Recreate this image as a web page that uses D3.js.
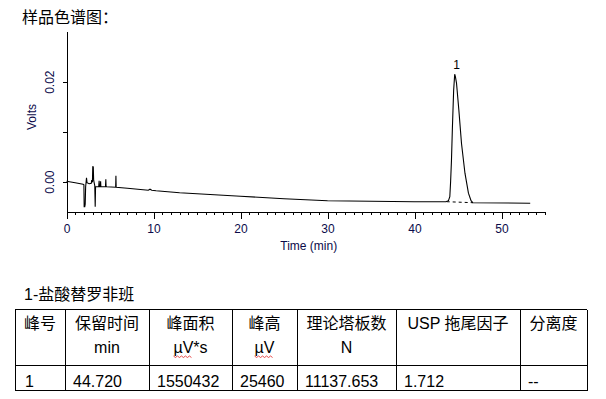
<!DOCTYPE html>
<html>
<head>
<meta charset="utf-8">
<script src="https://cdn.jsdelivr.net/npm/d3@7"></script>
<style>
  body { margin: 0; background: #fff; }
  svg text { font-family: "Liberation Sans", Arial, "Noto Sans CJK SC", sans-serif; fill: #000; }
</style>
</head>
<body>
<div id="chart"></div>
<script>
// chromatogram trace (time in min, signal in volts)
var traceTime = [0, 1.0, 1.9, 2.0, 2.03, 2.1, 2.15, 2.2, 2.3, 2.36, 2.6, 2.85, 2.9, 2.98, 3.02, 3.08, 3.12,
  3.25, 3.3, 3.34, 3.7, 3.75, 3.78, 3.88, 3.92, 3.95, 4.48, 4.52, 4.55, 4.6, 5.65, 5.68, 5.71,
  7, 9.4, 9.6, 9.8, 10.3, 13, 15, 20, 25, 30, 35, 40, 43.6,
  43.9, 44.06, 44.15, 44.25, 44.36, 44.5, 44.62, 44.7, 44.83, 45.1, 45.4, 45.8, 46.2, 46.5, 46.7, 53.3];
var traceVolts = [0.0001, -0.0002, -0.0005, -0.0006, -0.005, -0.005, -0.0045, -0.001, 0.0008, -0.0002, -0.0004, -0.0003, 0.0003, -0.0001, 0.0031, 0.0029, 0.0003,
  -0.0008, -0.005, -0.001, -0.001, 0.0002, -0.001, -0.001, 0.0001, -0.001, -0.001, 0.0005, -0.0009, -0.001, -0.0011, 0.0012, -0.0011,
  -0.0013, -0.0017, -0.0015, -0.0017, -0.0018, -0.0022, -0.0024, -0.0029, -0.0034, -0.0038, -0.0039, -0.004, -0.004,
  -0.0038, -0.003, 0.0, 0.0043, 0.011, 0.0183, 0.0215, 0.021, 0.0197, 0.0143, 0.0077, 0.0017, -0.0023, -0.0038, -0.0042, -0.0043];

// integration baseline under the peak
var baseTime = [43.7, 46.7];
var baseVolts = [-0.004, -0.0042];

var peakTime = [44.72];
var peakVolts = [0.0215];
var peakLabel = ["1"];

var xMajor = [0, 10, 20, 30, 40, 50];
var yMajor = [0, 0.01, 0.02];
var yLabels = ["0.00", "", "0.02"];

var tableTitle = "1-盐酸替罗非班";
var headTop = ["峰号", "保留时间", "峰面积", "峰高", "理论塔板数", "USP 拖尾因子", "分离度"];
var headSub = ["", "min", "µV*s", "µV", "N", "", ""];
var rowValues = ["1", "44.720", "1550432", "25460", "11137.653", "1.712", "--"];

var W = 606, H = 399;
var axisColor = "#0b0b4a";

var svg = d3.select("#chart").append("svg")
  .attr("width", W).attr("height", H);

svg.append("text")
  .attr("x", 22).attr("y", 23)
  .style("font-size", "16px")
  .text("样品色谱图：");

// scales
var x = d3.scaleLinear().domain([0, 55]).range([66.5, 545]);
var y = d3.scaleLinear().domain([-0.006, 0.03]).range([211.7, 31.7]);

// X axis, minor then major ticks
svg.append("g")
  .attr("transform", "translate(0," + y(-0.006) + ")")
  .call(d3.axisBottom(x).tickValues(d3.range(0, 56, 1)).tickSize(3).tickSizeOuter(0).tickFormat(""))
  .call(function(g) { g.selectAll("line,path").attr("stroke", "#000").attr("shape-rendering", "crispEdges"); });

var xg = svg.append("g")
  .attr("transform", "translate(0," + y(-0.006) + ")")
  .call(d3.axisBottom(x).tickValues(xMajor).tickSize(7).tickSizeOuter(0).tickFormat(d3.format("d")));
xg.select(".domain").remove();
xg.selectAll("line").attr("stroke", "#000").attr("shape-rendering", "crispEdges");
xg.selectAll("text")
  .attr("y", 13)
  .style("fill", axisColor)
  .style("font-size", "12px")
  .style("font-family", "'Liberation Sans', Arial, sans-serif");

svg.append("text")
  .attr("x", (x(0) + x(55)) / 2 + 3).attr("y", 250)
  .attr("text-anchor", "middle")
  .style("fill", axisColor)
  .style("font-size", "12px")
  .text("Time (min)");

// Y axis
var yg = svg.append("g")
  .attr("transform", "translate(" + x(0) + ",0)")
  .call(d3.axisLeft(y).tickValues(yMajor).tickSize(4).tickSizeOuter(0)
    .tickFormat(function(d, i) { return yLabels[i]; }));
yg.selectAll("line,path").attr("stroke", "#000").attr("shape-rendering", "crispEdges");
yg.selectAll("text")
  .attr("x", null).attr("dy", null)
  .attr("text-anchor", "middle")
  .attr("transform", "translate(-13,0) rotate(-90)")
  .style("fill", axisColor)
  .style("font-size", "12px")
  .style("font-family", "'Liberation Sans', Arial, sans-serif");

svg.append("text")
  .attr("transform", "translate(36," + 117 + ") rotate(-90)")
  .attr("text-anchor", "middle")
  .style("fill", axisColor)
  .style("font-size", "12px")
  .text("Volts");

// trace
var pts = traceTime.map(function(t, i) { return [t, traceVolts[i]]; });
svg.append("path")
  .datum(pts)
  .attr("fill", "none")
  .attr("stroke", "#000")
  .attr("stroke-width", 1.1)
  .attr("d", d3.line().x(function(d) { return x(d[0]); }).y(function(d) { return y(d[1]); }));

svg.append("path")
  .datum(baseTime.map(function(t, i) { return [t, baseVolts[i]]; }))
  .attr("fill", "none")
  .attr("stroke", "#000")
  .attr("stroke-dasharray", "3,3")
  .attr("d", d3.line().x(function(d) { return x(d[0]); }).y(function(d) { return y(d[1]); }));

svg.selectAll(".peaklab")
  .data(peakTime)
  .enter().append("text")
  .attr("x", function(d) { return x(d) + 1; })
  .attr("y", function(d, i) { return y(peakVolts[i]) - 5; })
  .attr("text-anchor", "middle")
  .style("font-size", "12px")
  .text(function(d, i) { return peakLabel[i]; });

// results table
var colX = [15, 65, 149, 232, 297, 396, 520, 587];
var tTop = 309.5, tMid = 365.5, tBot = 390.5;

svg.append("text")
  .attr("x", 24).attr("y", 300)
  .style("font-size", "16px")
  .text(tableTitle);

var tg = svg.append("g").attr("stroke", "#000").attr("shape-rendering", "crispEdges");
[tTop, tMid, tBot].forEach(function(yy) {
  tg.append("line").attr("x1", colX[0]).attr("x2", colX[colX.length - 1]).attr("y1", yy).attr("y2", yy);
});
colX.forEach(function(xx) {
  tg.append("line").attr("x1", xx + 0.5).attr("x2", xx + 0.5).attr("y1", tTop).attr("y2", tBot);
});

headTop.forEach(function(h, i) {
  var cx = (colX[i] + colX[i + 1]) / 2;
  svg.append("text").attr("x", cx).attr("y", 329)
    .attr("text-anchor", "middle").style("font-size", "16px").text(h);
  if (headSub[i]) {
    var t = svg.append("text").attr("x", cx).attr("y", 353)
      .attr("text-anchor", "middle").style("font-size", "16px").text(headSub[i]);
    if (headSub[i].indexOf("µV") === 0) {
      // spell-check squiggle under "µV"
      var bb = t.node().getBBox();
      var w = t.node().getSubStringLength(0, 2);
      var zz = [];
      for (var k = 0; k <= Math.floor(w / 2); k++) zz.push([bb.x + k * 2, 356 + (k % 2 ? 1.5 : 0)]);
      svg.append("path").attr("d", d3.line()(zz)).attr("fill", "none").attr("stroke", "#e02020").attr("stroke-width", 0.8);
    }
  }
});

rowValues.forEach(function(v, i) {
  svg.append("text").attr("x", colX[i] + (i === 0 ? 10 : 8)).attr("y", 387)
    .style("font-size", "16px").text(v);
});
</script>
</body>
</html>
